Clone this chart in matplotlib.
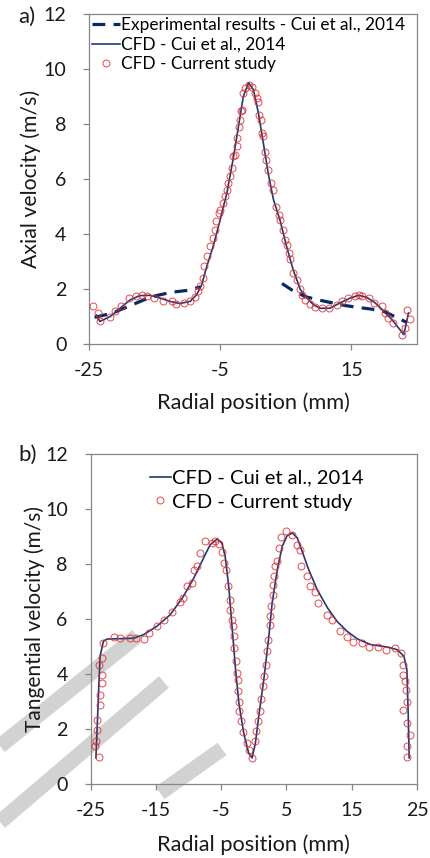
import numpy as np
import matplotlib
matplotlib.use("Agg")
import matplotlib.pyplot as plt
from matplotlib.lines import Line2D

plt.rcParams['font.family'] = ['Lato', 'DejaVu Sans']
plt.rcParams['axes.unicode_minus'] = False

# ---- a) axial velocity ----
exp_x = [-24.2, -21.5, -18.5, -15.5, -12.5, -10.0, -8.0, np.nan,
         4.4, 6.0, 8.0, 10.0, 12.0, 14.0, 16.0, 18.0, 20.0, 22.0, 23.5]
exp_y = [0.97, 1.12, 1.42, 1.72, 1.88, 1.95, 2.08, np.nan,
         2.2, 1.95, 1.72, 1.6, 1.5, 1.4, 1.33, 1.27, 1.18, 0.95, 0.78]

cui_ax_x = [-23.9, -23.4, -21.8, -20.3, -18.8, -17.3, -15.7, -14.2, -12.7, -11.2,
            -9.6, -8.6, -7.85, -7.1, -6.1, -5.05, -4.0, -3.0, -2.25, -1.5,
            -0.7, 0.04, 0.8, 1.56, 2.3, 3.1, 4.1, 5.1, 6.1, 7.2,
            8.2, 9.2, 10.2, 11.7, 13.3, 14.8, 16.1, 17.3, 18.6, 19.9,
            21.2, 22.2, 23.0, 23.7]
cui_ax_y = [1.05, 0.82, 1.0, 1.3, 1.6, 1.76, 1.77, 1.67, 1.55, 1.47,
            1.55, 1.8, 2.15, 2.8, 3.55, 4.5, 5.5, 6.8, 7.9, 9.0,
            9.5, 9.25, 8.4, 7.3, 6.2, 5.25, 4.5, 3.55, 2.7, 1.98,
            1.67, 1.43, 1.3, 1.3, 1.5, 1.67, 1.77, 1.7, 1.5, 1.2,
            0.88, 0.58, 0.34, 1.13]

cur_ax_x = [-24.4, -23.6, -23.4, -21.8, -21.1, -20.1, -19.0, -17.8, -17.0, -16.2,
            -15.2, -13.7, -12.4, -11.7, -10.6, -9.6, -8.9, -8.4, -8.1, -7.6,
            -7.5, -7.0, -6.6, -6.1, -5.8, -5.6, -5.2, -5.1, -4.6, -4.3,
            -4.0, -3.8, -3.5, -3.3, -3.0, -2.8, -2.5, -2.4, -2.1, -2.0,
            -1.9, -1.7, -1.5, -1.2, -0.7, -0.2, 0.3, 0.55, 0.8, 0.95,
            1.2, 1.3, 1.56, 1.8, 2.0, 2.3, 2.7, 3.1, 3.5, 3.9,
            4.1, 4.5, 4.9, 5.1, 5.4, 5.6, 6.1, 6.7, 7.2, 7.4,
            7.9, 8.7, 9.45, 10.5, 11.5, 12.8, 13.5, 14.5, 15.6, 16.1,
            16.6, 17.6, 18.4, 19.6, 20.1, 20.6, 21.4, 22.7, 23.2, 23.5,
            23.96]
cur_ax_y = [1.39, 1.13, 0.82, 1.0, 1.19, 1.37, 1.67, 1.76, 1.79, 1.76,
            1.67, 1.55, 1.55, 1.47, 1.49, 1.58, 1.7, 1.92, 2.12, 2.4,
            2.82, 3.19, 3.55, 3.85, 4.16, 4.46, 4.76, 4.88, 5.13, 5.37,
            5.6, 5.85, 6.1, 6.4, 6.82, 6.88, 7.19, 7.49, 7.9, 8.16,
            8.46, 8.52, 9.13, 9.3, 9.43, 9.35, 9.13, 8.95, 8.8, 8.34,
            8.16, 7.67, 7.55, 7.0, 6.7, 6.34, 5.85, 5.6, 5.0, 4.7,
            4.5, 4.16, 3.8, 3.6, 3.3, 3.1, 2.58, 2.34, 2.0, 1.8,
            1.6, 1.47, 1.35, 1.31, 1.31, 1.43, 1.55, 1.67, 1.73, 1.77,
            1.73, 1.67, 1.49, 1.37, 1.13, 0.95, 0.76, 0.34, 0.58, 1.25,
            0.91]

# ---- b) tangential velocity ----
cui_tg_x = [-24.2, -23.57, -23.05, -22.5, -18.4, -16.9, -14.9, -12.8, -10.8, -9.2,
            -7.7, -6.7, -5.6, -4.9, -4.4, -3.85, -3.3, -2.8, -2.3, -1.55,
            -0.8, -0.27, 0.24, 0.75, 1.52, 2.3, 2.8, 3.6, 4.35, 5.1,
            5.9, 6.65, 7.4, 8.4, 9.7, 11.3, 12.8, 14.3, 15.9, 17.9,
            20.5, 22.0, 23.0, 23.45, 23.65, 23.8]
cui_tg_y = [0.95, 4.64, 5.19, 5.27, 5.3, 5.43, 5.73, 6.16, 6.82, 7.49,
            8.22, 8.7, 8.91, 8.76, 8.28, 7.19, 5.6, 4.16, 2.95, 1.85,
            1.13, 0.95, 1.49, 2.46, 3.79, 5.37, 6.58, 7.8, 8.64, 9.03,
            9.13, 8.95, 8.46, 7.8, 7.07, 6.4, 5.9, 5.55, 5.27, 5.07,
            4.98, 4.88, 4.64, 4.16, 2.58, 0.95]

cur_tg_x = [-23.7, -24.3, -24.2, -24.1, -24.0, -23.6, -23.6, -23.3, -23.3, -23.8,
            -23.2, -23.05, -21.5, -20.5, -19.0, -18.0, -16.9, -16.1, -14.9, -13.8,
            -12.6, -11.3, -10.8, -10.3, -9.5, -9.2, -8.7, -8.2, -7.45, -6.4,
            -5.9, -5.4, -4.9, -4.5, -4.3, -3.9, -3.7, -3.6, -3.4, -3.2,
            -3.1, -3.0, -2.8, -2.6, -2.5, -2.4, -2.3, -2.2, -2.0, -1.6,
            -1.1, -0.7, -0.35, 0.15, 0.4, 0.6, 0.9, 1.15, 1.4, 1.6,
            1.8, 2.0, 2.15, 2.4, 2.55, 2.6, 2.9, 3.0, 3.15, 3.3,
            3.6, 3.85, 4.1, 4.9, 5.9, 6.6, 7.1, 7.3, 8.1, 8.6,
            9.4, 9.9, 11.2, 11.9, 13.2, 14.2, 15.2, 16.5, 17.7, 19.0,
            20.3, 21.6, 22.6, 22.9, 22.9, 23.2, 23.3, 22.8, 23.4, 23.4,
            23.4, 23.9, 23.4]
cur_tg_y = [1.0, 1.37, 1.55, 1.98, 2.34, 2.88, 3.25, 3.67, 3.98, 4.34,
            4.58, 5.13, 5.35, 5.31, 5.31, 5.31, 5.27, 5.49, 5.76, 5.98,
            6.24, 6.62, 6.76, 7.21, 7.31, 7.79, 7.92, 8.4, 8.82, 8.76,
            8.82, 8.74, 8.42, 8.04, 7.8, 7.19, 6.7, 6.34, 5.98, 5.73,
            5.37, 4.95, 4.46, 4.04, 3.79, 3.37, 3.0, 2.64, 2.28, 1.88,
            1.49, 1.22, 0.95, 1.55, 1.92, 2.28, 2.64, 3.09, 3.55, 3.92,
            4.34, 4.82, 5.22, 5.79, 6.12, 6.46, 6.88, 7.25, 7.55, 7.92,
            8.1, 8.58, 8.98, 9.19, 9.07, 8.7, 8.52, 7.94, 7.55, 7.19,
            6.98, 6.58, 6.16, 5.95, 5.55, 5.35, 5.16, 5.13, 4.98, 5.0,
            4.86, 4.95, 4.76, 4.34, 3.98, 3.73, 3.43, 2.7, 3.0, 2.22,
            1.37, 1.79, 1.0]

navy = '#1f3b73'
dark_navy = '#062a66'
red = '#e0282c'
spine_col = '#868686'
txt_col = '#1a1a1a'
mark_col = '#d2d2d2'

W, H = 431, 858
fig = plt.figure(figsize=(W / 100, H / 100), dpi=100)
renderer = fig.canvas.get_renderer()


def fit_size(text, target_px, fs=10.0):
    # font size that makes text about target_px wide
    t = fig.text(0, 0, text, fontsize=fs)
    w = t.get_window_extent(renderer).width
    t.remove()
    return fs * target_px / w


tick_fs = fit_size('15', 23)
leg_a_fs = 0.5 * (fit_size('CFD - Cui et al., 2014', 162) +
                  fit_size('Experimental results - Cui et al., 2014', 285))
leg_b_fs = 0.5 * (fit_size('CFD - Cui et al., 2014', 191) +
                  fit_size('CFD - Current study', 181))
xlab_fs = fit_size('Radial position (mm)', 193)
ylab_a_fs = fit_size('Axial velocity (m/s)', 177)
ylab_b_fs = fit_size('Tangential velocity (m/s)', 227)
tag_fs = fit_size('a)', 17)

# gray watermark strokes behind panel b (pixel coords)
for seg in [[(0, 746), (137, 636)], [(0, 822), (164, 682)], [(222, 749), (160, 793)]]:
    xs = [p[0] / W for p in seg]
    ys = [1 - p[1] / H for p in seg]
    fig.add_artist(Line2D(xs, ys, color=mark_col, lw=11, solid_capstyle='butt',
                          zorder=0))

# axes boxes in pixels: left, top, right, bottom
box_a = (89.3, 14, 417, 344)
box_b = (90.7, 454, 417, 784)


def add_ax(b):
    l, t, r, btm = b
    ax = fig.add_axes([l / W, 1 - btm / H, (r - l) / W, (btm - t) / H])
    ax.set_facecolor('none')
    return ax


ax1 = add_ax(box_a)
ax2 = add_ax(box_b)


def style(ax, xticks, ylabel, ylab_fs, ylab_x, xlab_y):
    ax.set_xlim(-25, 25)
    ax.set_ylim(0, 12)
    ax.set_xticks(xticks)
    ax.set_yticks(range(0, 13, 2))
    for s in ax.spines.values():
        s.set_color(spine_col)
        s.set_linewidth(0.9)
    ax.tick_params(axis='both', direction='out', length=4, width=0.9,
                   color=spine_col, labelsize=tick_fs, labelcolor=txt_col)
    ax.tick_params(axis='y', pad=12.5)
    ax.tick_params(axis='x', pad=9)
    ax.set_ylabel(ylabel, fontsize=ylab_fs, color=txt_col)
    ax.set_xlabel('Radial position (mm)', fontsize=xlab_fs, color=txt_col)
    ax.yaxis.set_label_coords(ylab_x, 0.5)
    ax.xaxis.set_label_coords(0.5, xlab_y)


style(ax1, [-25, -5, 15], 'Axial velocity (m/s)', ylab_a_fs,
      (41 - 89.3) / 327.7, (344 - 392) / 330)
style(ax2, [-25, -15, -5, 5, 15, 25], 'Tangential velocity (m/s)', ylab_b_fs,
      (45 - 90.7) / 326.3, (784 - 834) / 330)

ax1.plot(exp_x, exp_y, color=dark_navy, lw=2.3, dashes=(4, 2.6),
         label='Experimental results - Cui et al., 2014', zorder=2)
ax1.plot(cui_ax_x, cui_ax_y, color=navy, lw=1.2,
         label='CFD - Cui et al., 2014', zorder=3)
ax1.plot(cur_ax_x, cur_ax_y, ls='none', marker='o', ms=5, mfc='none',
         mec=red, mew=0.7, alpha=0.85, label='CFD - Current study', zorder=4)

ax2.plot(cui_tg_x, cui_tg_y, color=navy, lw=1.2,
         label='CFD - Cui et al., 2014', zorder=3)
ax2.plot(cur_tg_x, cur_tg_y, ls='none', marker='o', ms=5, mfc='none',
         mec=red, mew=0.7, alpha=0.85, label='CFD - Current study', zorder=4)

fa = leg_a_fs * 100 / 72
fb = leg_b_fs * 100 / 72
ax1.legend(loc='upper left', frameon=False, fontsize=leg_a_fs,
           bbox_to_anchor=((92 - 89.3) / 327.7, (344 - (28 - 0.62 * fa)) / 330),
           borderaxespad=0, borderpad=0, handlelength=28 / fa,
           handletextpad=0.05, labelspacing=(24 - 1.2 * fa) / fa)
ax2.legend(loc='upper left', frameon=False, fontsize=leg_b_fs,
           bbox_to_anchor=((150 - 90.7) / 326.3, (784 - (482 - 0.62 * fb)) / 330),
           borderaxespad=0, borderpad=0, handlelength=21 / fb,
           handletextpad=0.05, labelspacing=(31 - 1.2 * fb) / fb)

fig.text(18 / W, 1 - 17 / H, 'a)', fontsize=tag_fs, va='center', color=txt_col)
fig.text(18 / W, 1 - 455 / H, 'b)', fontsize=tag_fs, va='center', color=txt_col)

fig.savefig('out.png', dpi=100)
